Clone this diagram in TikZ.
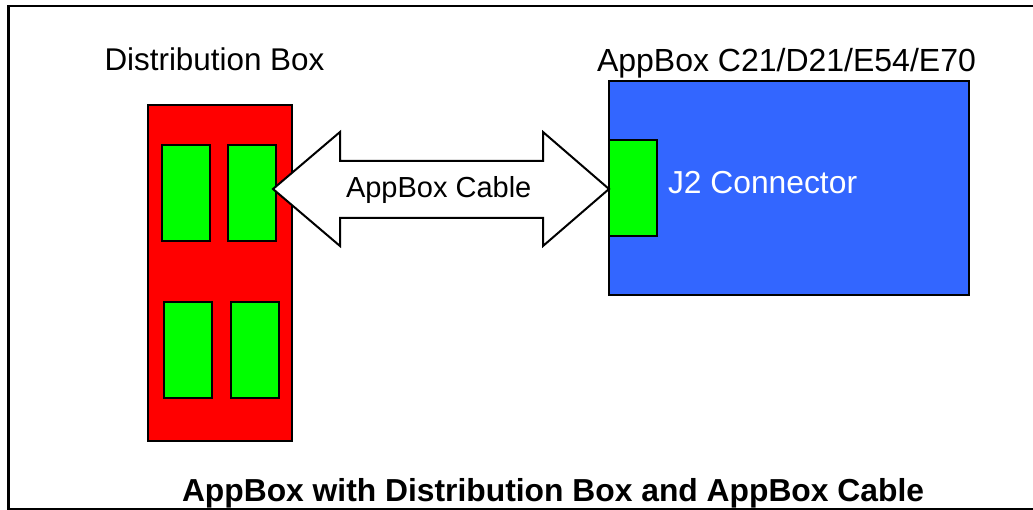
\documentclass[tikz,border=0pt]{standalone}
\usepackage{fontspec}
\setmainfont{Liberation Sans}
\usetikzlibrary{calc}
\definecolor{boxred}{RGB}{255,0,0}
\definecolor{boxgreen}{RGB}{0,255,0}
\definecolor{boxblue}{RGB}{51,102,255}
\tikzset{
  box/.style={draw=black, line width=2pt, inner sep=0pt, outer sep=0pt, anchor=north west},
  plug/.style={box, fill=boxgreen, minimum width=48pt, minimum height=96pt},
  lbl/.style={inner sep=0pt, outer sep=0pt, anchor=base west},
  cable/.style={draw=black, line width=2pt, fill=white, line join=miter},
}
\begin{document}
\begin{tikzpicture}[x=1pt,y=-1pt]
\useasboundingbox (0,0) rectangle (1033,510);
\draw[line width=2.5pt] (8.5,6) rectangle (1045,509);
% distribution box
\node[box, fill=boxred, minimum width=144pt, minimum height=336pt] (dbox) at (148,105) {};
\node[plug] (p1) at (162,145) {};
\node[plug] (p2) at (228,145) {};
\node[plug] (p3) at (164,302) {};
\node[plug] (p4) at (231,302) {};
% appbox
\node[box, fill=boxblue, minimum width=360pt, minimum height=214pt] (app) at (609,81) {};
\node[plug] (j2) at (609,140) {};
% labels
\node[lbl, font=\fontsize{31.4}{36}\selectfont] (tdb) at (104.5,71) {Distribution Box};
\node[lbl, font=\fontsize{32}{38}\selectfont] (tapp) at (597,72) {AppBox C21/D21/E54/E70};
\node[lbl, font=\fontsize{31.8}{38}\selectfont, text=white] (tj2) at (668,194) {J2 Connector};
% cable double arrow
\coordinate (tl) at ($(p2.east |- 0,189)+(-3,0)$);
\coordinate (tr) at (j2.west |- 0,189);
\draw[cable] (tl) -- ($(tl)+(67,-57)$) -- ($(tl)+(67,-28)$) -- ($(tr)+(-66,-28)$)
  -- ($(tr)+(-66,-57)$) -- (tr) -- ($(tr)+(-66,57)$) -- ($(tr)+(-66,29)$)
  -- ($(tl)+(67,29)$) -- ($(tl)+(67,57)$) -- cycle;
\node[lbl, font=\fontsize{29}{34}\selectfont] (tcable) at (346,198) {AppBox Cable};
% caption
\node[lbl, font=\bfseries\fontsize{31.8}{36}\selectfont] (cap) at (182,501) {AppBox with Distribution Box and AppBox Cable};
\end{tikzpicture}
\end{document}
